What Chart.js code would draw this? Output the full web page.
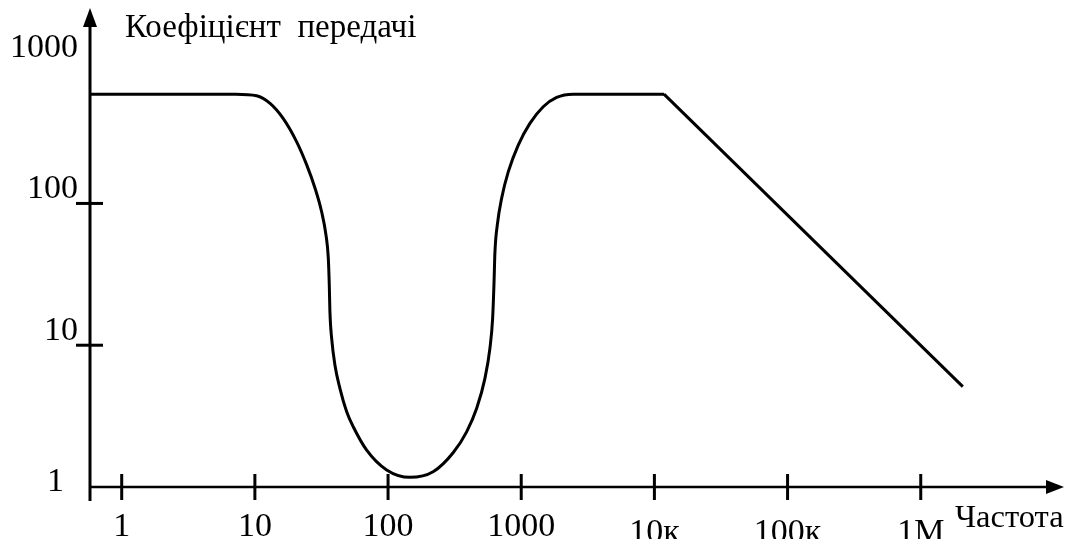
<!DOCTYPE html>
<html lang="uk">
<head>
<meta charset="utf-8">
<title>Коефіцієнт передачі</title>
<script src="https://cdn.jsdelivr.net/npm/chart.js@4/dist/chart.umd.min.js"></script>
<style>
  html, body { margin: 0; padding: 0; background: #fff; }
  #wrap { width: 1074px; height: 539px; }
</style>
</head>
<body>
<div id="wrap"><canvas id="gainChart" width="1074" height="539"></canvas></div>
<script>
// DATA (frequency in Hz, gain as a ratio)
const freqCurve = [0.578, 7.2, 10.3, 13.0, 16.3, 20.6, 24.5, 28.3, 31.7, 34.2, 35.6, 36.2, 36.6, 37.7, 39.9, 43.5, 48.9,
  54.8, 69.1, 97.6, 146, 218, 309, 389, 463, 534, 582, 610, 624, 635, 661, 713, 799, 950, 1162, 1463, 1845, 2456, 11800];
const gainCurve = [590, 590, 575, 508, 398, 272, 187, 128, 87.4, 59.8, 41.0, 26.6, 17.2, 11.2, 7.25, 4.97, 3.40,
  2.66, 1.82, 1.32, 1.17, 1.28, 1.75, 2.45, 3.59, 5.84, 9.51, 15.5, 26.6, 45.6, 70.4, 109, 167, 258, 367, 481, 560, 590, 590];
const freqRolloff = [11800, 2070000];
const gainRolloff = [590, 5.1];

const xTickValues = [1, 10, 100, 1000, 1e4, 1e5, 1e6];
const xTickLabels = ['1', '10', '100', '1000', '10к', '100к', '1М'];
const yTickValues = [1, 10, 100, 1000];
const yTickLabels = ['1', '10', '100', '1000'];
const yMarkedTicks = [10, 100]; // only these get a dash on the axis

const yTitle = 'Коефіцієнт  передачі';
const xTitle = 'Частота';

const xMin = 0.578, xMax = 1.15e7;
const yMin = 1, yMax = 2390;

function toPoints(xs, ys) {
  return xs.map((v, i) => ({ x: v, y: ys[i] }));
}

// AXES, ARROWS, TICKS AND LABELS (sketch style)
const handAxes = {
  id: 'handAxes',
  beforeDatasetsDraw(chart) {
    const { ctx, chartArea: area, scales: { x, y } } = chart;
    const x0 = area.left, y0 = area.bottom;
    ctx.save();
    ctx.strokeStyle = '#000';
    ctx.fillStyle = '#000';

    // vertical axis + arrow
    ctx.lineWidth = 3;
    ctx.beginPath();
    ctx.moveTo(x0, y0 + 14);
    ctx.lineTo(x0, area.top + 14);
    ctx.stroke();
    ctx.beginPath();
    ctx.moveTo(x0, area.top);
    ctx.lineTo(x0 - 7, area.top + 19);
    ctx.lineTo(x0 + 7, area.top + 19);
    ctx.closePath();
    ctx.fill();

    // horizontal axis + arrow
    ctx.lineWidth = 2.5;
    ctx.beginPath();
    ctx.moveTo(x0, y0);
    ctx.lineTo(area.right - 12, y0);
    ctx.stroke();
    ctx.beginPath();
    ctx.moveTo(area.right + 2, y0);
    ctx.lineTo(area.right - 16, y0 - 7);
    ctx.lineTo(area.right - 16, y0 + 7);
    ctx.closePath();
    ctx.fill();

    // x ticks cross the axis
    ctx.lineWidth = 3;
    xTickValues.forEach(v => {
      const px = x.getPixelForValue(v);
      ctx.beginPath();
      ctx.moveTo(px, y0 - 13);
      ctx.lineTo(px, y0 + 13);
      ctx.stroke();
    });
    yMarkedTicks.forEach(v => {
      const py = y.getPixelForValue(v);
      ctx.beginPath();
      ctx.moveTo(x0 - 14, py);
      ctx.lineTo(x0 + 13, py);
      ctx.stroke();
    });

    ctx.font = '34px "Liberation Serif", "Times New Roman", serif';
    ctx.textBaseline = 'alphabetic';

    // x labels
    ctx.textAlign = 'center';
    xTickValues.forEach((v, i) => {
      const px = x.getPixelForValue(v);
      ctx.fillText(xTickLabels[i], px, v >= 1e4 ? y0 + 55 : y0 + 49);
    });

    // y labels sit above their dash
    ctx.textAlign = 'right';
    yTickValues.forEach((v, i) => {
      const py = y.getPixelForValue(v);
      if (v === yMin) {
        ctx.fillText(yTickLabels[i], x0 - 26, py + 4);
      } else {
        ctx.fillText(yTickLabels[i], x0 - 12, py - 5);
      }
    });

    // axis titles
    ctx.textAlign = 'left';
    ctx.font = '33px "Liberation Serif", "Times New Roman", serif';
    ctx.fillText(yTitle, x0 + 35, area.top + 29);
    ctx.font = '32.5px "Liberation Serif", "Times New Roman", serif';
    ctx.fillText(xTitle, area.right - 107, y0 + 40);

    ctx.restore();
  }
};

const ctx = document.getElementById('gainChart').getContext('2d');

const gainChart = new Chart(ctx, {
  type: 'line',
  data: {
    datasets: [
      {
        label: 'curve',
        data: toPoints(freqCurve, gainCurve),
        borderColor: '#000',
        borderWidth: 3,
        pointRadius: 0,
        cubicInterpolationMode: 'monotone',
        clip: false,
        fill: false,
      },
      {
        label: 'rolloff',
        data: toPoints(freqRolloff, gainRolloff),
        borderColor: '#000',
        borderWidth: 3,
        pointRadius: 0,
        tension: 0,
        clip: false,
        fill: false,
      },
    ],
  },
  options: {
    responsive: false,
    animation: false,
    devicePixelRatio: 1,
    events: [],
    layout: {
      padding: { left: 90, right: 12, top: 8, bottom: 52 },
    },
    plugins: {
      legend: { display: false },
      tooltip: { enabled: false },
    },
    scales: {
      x: { type: 'logarithmic', min: xMin, max: xMax, display: false },
      y: { type: 'logarithmic', min: yMin, max: yMax, display: false },
    },
  },
  plugins: [handAxes],
});
</script>
</body>
</html>
